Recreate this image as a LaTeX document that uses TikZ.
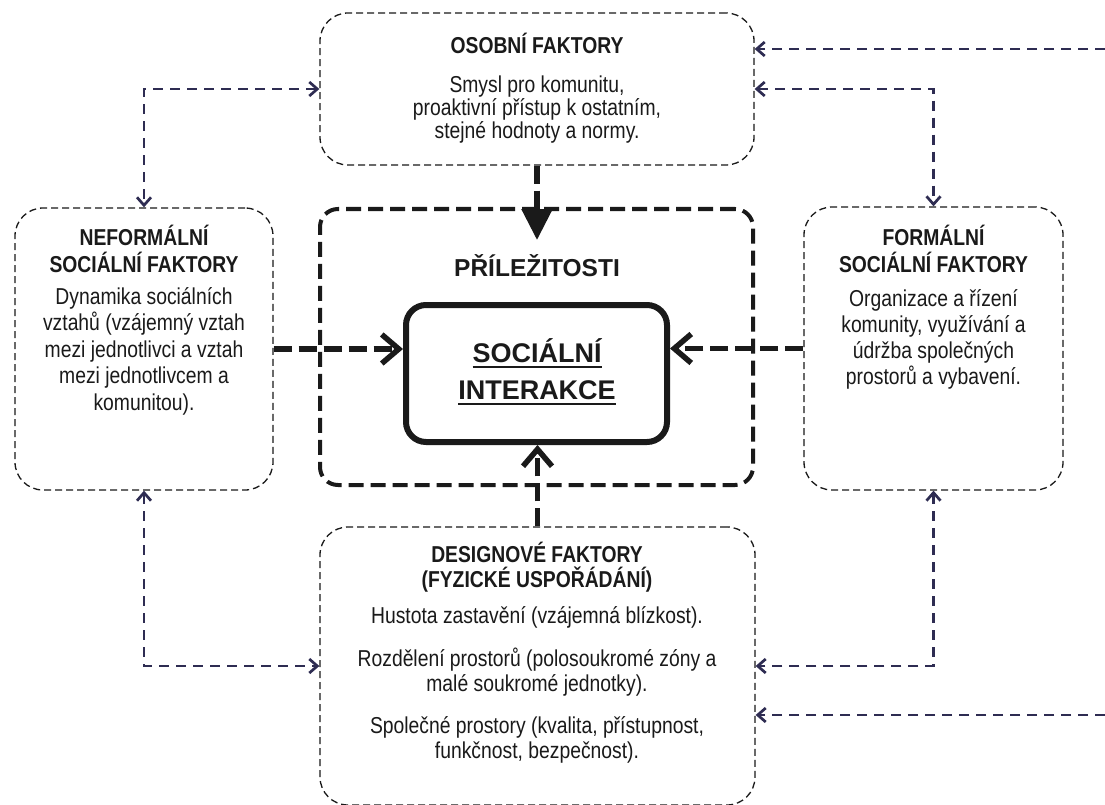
\documentclass[tikz,border=0pt]{standalone}
\usepackage{fontspec}
\setmainfont{Liberation Sans}[FakeStretch=0.84]
\newfontfamily\bigsans{Liberation Sans}
\usetikzlibrary{arrows.meta}
\definecolor{navy}{HTML}{2E2C52}
\definecolor{ink}{HTML}{1A1A1A}
\newcommand{\ulx}[1]{\setbox0\hbox{#1}\rlap{\rule[-5pt]{\wd0}{2pt}}\box0}
\begin{document}
\begin{tikzpicture}[x=1pt,y=-1pt,
  fbox/.style={draw=ink, line width=1.3pt, dash pattern=on 7pt off 4pt, rounded corners=28pt, inner sep=0pt},
  txt/.style={text=ink, align=center, inner sep=0pt},
  ttl/.style={txt, font=\bfseries\fontsize{23}{27}\selectfont},
  navyline/.style={draw=navy, line width=2.7pt, dash pattern=on 10pt off 7pt, >={Straight Barb[length=8pt,width=14pt]}},
  thickline/.style={draw=ink, line width=5.5pt, dash pattern=on 18pt off 7pt, >={Straight Barb[length=17pt,width=29pt]}}
]
\useasboundingbox[fill=white] (0,0) rectangle (1105,805);

% boxes
\node[fbox, minimum width=434pt, minimum height=152pt] (osob) at (537,89) {};
\node[fbox, minimum width=258pt, minimum height=282pt] (nef) at (144,349) {};
\node[fbox, minimum width=259pt, minimum height=283pt] (form) at (933.5,348.5) {};
\node[fbox, minimum width=435pt, minimum height=278pt] (des) at (537.5,666) {};
\node[draw=ink, line width=4pt, dash pattern=on 15pt off 7pt, rounded corners=18pt, minimum width=433pt, minimum height=276pt, inner sep=0pt] (pril) at (536.5,347) {};
\node[draw=ink, line width=6pt, rounded corners=20pt, minimum width=261pt, minimum height=137pt, inner sep=0pt] (soc) at (536.5,373.5) {};

% texts
\node[ttl] (osobT) at (537,43) {OSOBNÍ FAKTORY};
\node[txt, font=\fontsize{23}{23}\selectfont] (osobB) at (537,110) {Smysl pro komunitu,\\proaktivní přístup k ostatním,\\stejné hodnoty a normy.};

\node[ttl] (nefT) at (144,248.5) {NEFORMÁLNÍ\\SOCIÁLNÍ FAKTORY};
\node[txt, font=\fontsize{23}{26.5}\selectfont] (nefB) at (144,351) {Dynamika sociálních\\vztahů (vzájemný vztah\\mezi jednotlivci a vztah\\mezi jednotlivcem a\\komunitou).};

\node[ttl] (formT) at (933.5,248.5) {FORMÁLNÍ\\SOCIÁLNÍ FAKTORY};
\node[txt, font=\fontsize{23}{26}\selectfont] (formB) at (933.5,339) {Organizace a řízení\\komunity, využívání a\\údržba společných\\prostorů a vybavení.};

\node[ttl, font=\bfseries\fontsize{23}{25}\selectfont] (desT) at (537,567.5) {DESIGNOVÉ FAKTORY\\(FYZICKÉ USPOŘÁDÁNÍ)};
\node[txt, font=\fontsize{23}{25}\selectfont] (desB) at (537,684.5) {Hustota zastavění (vzájemná blízkost).\\[18pt]Rozdělení prostorů (polosoukromé zóny a\\malé soukromé jednotky).\\[17pt]Společné prostory (kvalita, přístupnost,\\funkčnost, bezpečnost).};

\node[txt, font=\bigsans\bfseries\fontsize{24.5}{28}\selectfont] (prilT) at (537,266) {PŘÍLEŽITOSTI};
\node[txt, font=\bigsans\bfseries\fontsize{27}{37}\selectfont] (socT) at (537,372) {\ulx{SOCIÁLNÍ}\\\ulx{INTERAKCE}};

% navy connectors
\draw[navyline,<->] (osob.west) -| (nef.north);
\draw[navyline,<->] (nef.south) |- (des.west);
\draw[navyline,<->] (osob.east) -| (form.north);
\draw[navyline,<->] (form.south) |- (des.east);
\coordinate (inT) at (1105,49);
\draw[navyline,->] (inT) -- (inT -| osob.east);
\coordinate (inB) at (1105,715);
\draw[navyline,->] (inB) -- (inB -| des.east);

% thick connectors
\coordinate (pTip) at (537,240);
\draw[thickline,-{Triangle[length=31pt,width=30pt]}] (osob.south) -- (pTip);
\draw[thickline,->] (nef.east) -- (nef.east -| soc.west);
\draw[thickline,->] (form.west) -- (form.west -| soc.east);
\draw[thickline,->] (des.north) -- (des.north |- soc.south);
\end{tikzpicture}
\end{document}
